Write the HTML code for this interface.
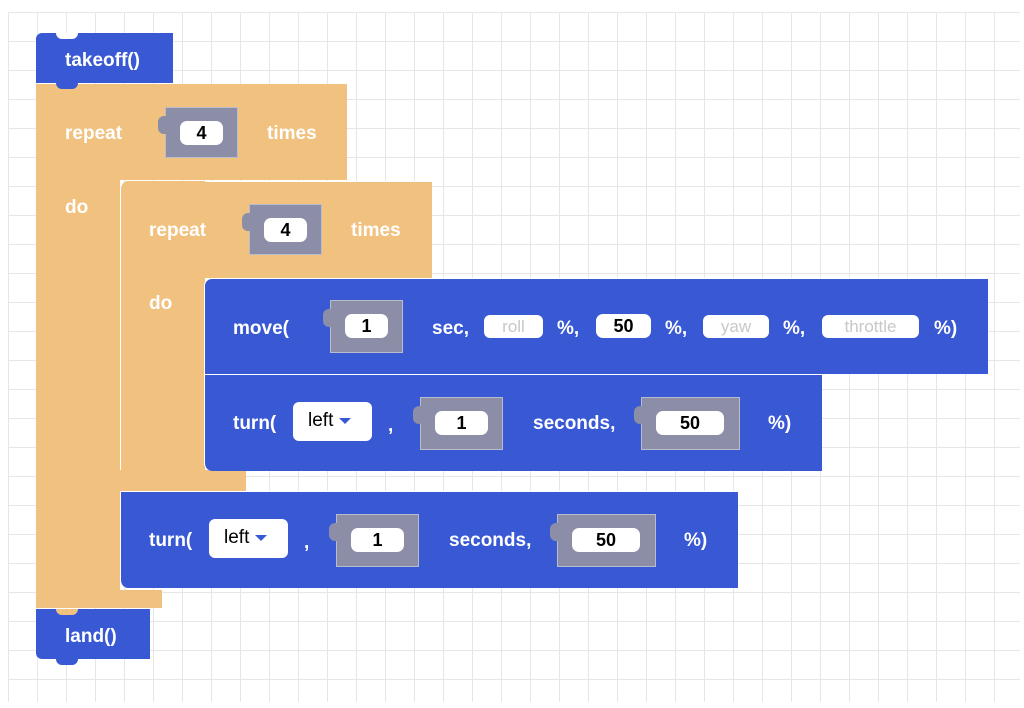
<!DOCTYPE html>
<html><head><style>
body{margin:0;width:1024px;height:708px;background:#fff;position:relative;overflow:hidden;font-family:"Liberation Sans",sans-serif;}
.grid{position:absolute;left:8px;top:12px;width:1012px;height:690px;
background-image:linear-gradient(#e6e6e6 1px,transparent 1px),linear-gradient(90deg,#e6e6e6 1px,transparent 1px);background-size:29px 29px;}
.b{position:absolute;}
.blue{background:#3858d4;}
.or{background:#f1c17f;}
.t{position:absolute;color:#fff;font-size:19px;font-weight:bold;line-height:22px;white-space:nowrap;margin-top:2px;}
.g{position:absolute;background:#8b8ea6;border:1px solid #b9bccb;box-sizing:border-box;}
.g:before{content:"";position:absolute;left:-8px;top:8px;width:10px;height:18px;background:#8b8ea6;border-radius:6px 0 0 6px;}
.in{position:absolute;background:#fff;border-radius:7px;color:#000;font-size:18px;text-align:center;line-height:24px;font-weight:bold;}
.ph{position:absolute;background:#fff;border-radius:6px;color:#c8c8c8;font-size:17px;text-align:center;line-height:23px;}
.dd{position:absolute;background:#fff;border-radius:6px;color:#000;font-size:19px;line-height:38px;padding-left:15px;box-sizing:border-box;}
.dd span{display:inline-block;margin-left:6px;width:0;height:0;border-left:6px solid transparent;border-right:6px solid transparent;border-top:6px solid #3858d4;vertical-align:middle;}
.notch{position:absolute;width:22px;height:6px;border-radius:0 0 8px 8px;}
</style></head><body>
<div class="grid"></div>

<div class="b or" style="left:36px;top:84px;width:311px;height:96px"></div>
<div class="b or" style="left:36px;top:84px;width:84px;height:524px"></div>
<div class="b or" style="left:36px;top:590px;width:126px;height:18px"></div>
<div class="b or" style="left:120px;top:181px;width:311px;height:96px;border-radius:8px 0 0 0;border-top:1px solid #fff;border-left:1px solid #fff"></div>
<div class="b or" style="left:120px;top:181px;width:84px;height:310px;border-left:1px solid #fff;border-radius:8px 0 0 8px"></div>
<div class="b or" style="left:120px;top:470px;width:126px;height:21px"></div>

<div class="b blue" style="left:36px;top:33px;width:137px;height:50px;border-radius:6px 0 0 0"></div>
<div class="notch" style="left:56px;top:33px;background:#fff"></div>
<div class="notch blue" style="left:56px;top:83px"></div>
<div class="t" style="left:65px;top:48px">takeoff()</div>

<div class="t" style="left:65px;top:121px">repeat</div>
<div class="g" style="left:165px;top:107px;width:73px;height:51px"></div>
<div class="in" style="left:180px;top:121px;width:43px">4</div>
<div class="t" style="left:267px;top:121px">times</div>
<div class="t" style="left:65px;top:195px">do</div>

<div class="t" style="left:149px;top:218px">repeat</div>
<div class="g" style="left:249px;top:204px;width:73px;height:51px"></div>
<div class="in" style="left:264px;top:218px;width:43px">4</div>
<div class="t" style="left:351px;top:218px">times</div>
<div class="t" style="left:149px;top:291px">do</div>

<div class="b blue" style="left:204px;top:278px;width:783px;height:95px;border-radius:8px 0 0 0;border-left:1px solid #fff;border-top:1px solid #fff"></div>
<div class="t" style="left:233px;top:316px">move(</div>
<div class="g" style="left:330px;top:300px;width:73px;height:53px"></div>
<div class="in" style="left:345px;top:314px;width:43px">1</div>
<div class="t" style="left:432px;top:316px">sec,</div>
<div class="ph" style="left:484px;top:315px;width:59px">roll</div>
<div class="t" style="left:557px;top:316px">%,</div>
<div class="in" style="left:596px;top:314px;width:55px">50</div>
<div class="t" style="left:665px;top:316px">%,</div>
<div class="ph" style="left:703px;top:315px;width:66px">yaw</div>
<div class="t" style="left:783px;top:316px">%,</div>
<div class="ph" style="left:822px;top:315px;width:97px">throttle</div>
<div class="t" style="left:934px;top:316px">%)</div>

<div class="b blue" style="left:204px;top:374px;width:617px;height:96px;border-top:1px solid #fff;border-left:1px solid #fff;border-radius:0 0 0 8px"></div>
<div class="t" style="left:233px;top:411px">turn(</div>
<div class="dd" style="left:293px;top:402px;width:79px;height:39px">left<span></span></div>
<div class="t" style="left:388px;top:413px">,</div>
<div class="g" style="left:420px;top:397px;width:83px;height:53px"></div>
<div class="in" style="left:435px;top:411px;width:53px">1</div>
<div class="t" style="left:533px;top:411px">seconds,</div>
<div class="g" style="left:641px;top:397px;width:99px;height:53px"></div>
<div class="in" style="left:656px;top:411px;width:68px">50</div>
<div class="t" style="left:768px;top:411px">%)</div>

<div class="b blue" style="left:120px;top:491px;width:617px;height:96px;border-top:1px solid #fff;border-left:1px solid #fff;border-radius:0 0 0 8px"></div>
<div class="t" style="left:149px;top:528px">turn(</div>
<div class="dd" style="left:209px;top:519px;width:79px;height:39px">left<span></span></div>
<div class="t" style="left:304px;top:530px">,</div>
<div class="g" style="left:336px;top:514px;width:83px;height:53px"></div>
<div class="in" style="left:351px;top:528px;width:53px">1</div>
<div class="t" style="left:449px;top:528px">seconds,</div>
<div class="g" style="left:557px;top:514px;width:99px;height:53px"></div>
<div class="in" style="left:572px;top:528px;width:68px">50</div>
<div class="t" style="left:684px;top:528px">%)</div>

<div class="b blue" style="left:36px;top:609px;width:114px;height:50px;border-radius:0 0 0 6px"></div>
<div class="notch or" style="left:56px;top:609px"></div>
<div class="notch blue" style="left:56px;top:659px"></div>
<div class="t" style="left:65px;top:624px">land()</div>
</body></html>
